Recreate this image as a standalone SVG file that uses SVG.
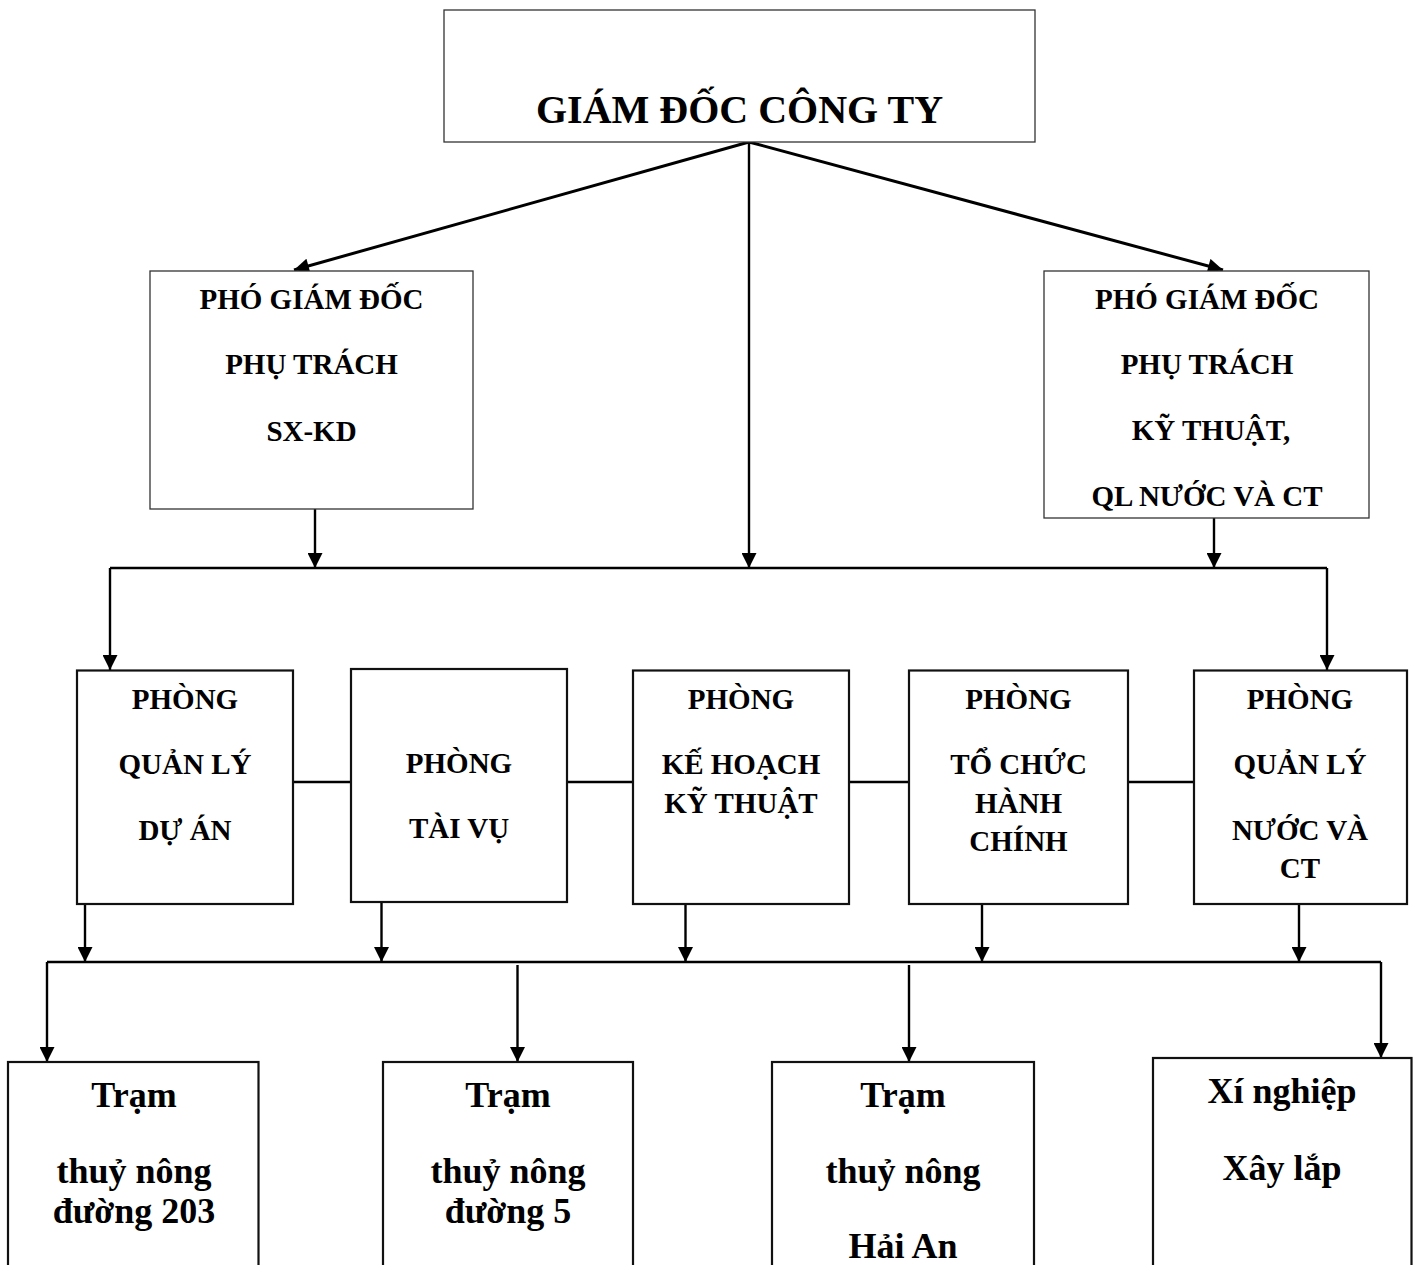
<svg xmlns="http://www.w3.org/2000/svg" width="1422" height="1265" viewBox="0 0 1422 1265">
<style>
  .thin { fill: #fff; stroke: #333; stroke-width: 1.3; }
  .thick { fill: #fff; stroke: #111; stroke-width: 2.2; }
  .t { font-family: "Liberation Serif", "Times New Roman", serif; font-weight: bold; fill: #000; text-anchor: middle; }
  .t40 { font-size: 40px; }
  .t29 { font-size: 29px; }
  .t36 { font-size: 36px; }
  .c { stroke: #000; stroke-width: 2.4; fill: none; }
  .d { stroke-width: 3; }
  .a { marker-end: url(#arr); }
</style>
<defs>
  <marker id="arr" viewBox="0 0 10 10" refX="10" refY="5" markerWidth="16" markerHeight="15" markerUnits="userSpaceOnUse" orient="auto">
    <path d="M0,0 L10,5 L0,10 z" fill="#000"/>
  </marker>
</defs>
<rect width="1422" height="1265" fill="#fff"/>

<g id="connectors">
  <line class="c d a" x1="749" y1="142" x2="294" y2="270"/>
  <line class="c d a" x1="749" y1="142" x2="1223" y2="270"/>
  <line class="c a" x1="749" y1="142" x2="749" y2="568"/>
  <line class="c a" x1="315" y1="509" x2="315" y2="568"/>
  <line class="c a" x1="1214" y1="518" x2="1214" y2="568"/>
  <line class="c" x1="110" y1="568" x2="1327" y2="568"/>
  <line class="c a" x1="110" y1="568" x2="110" y2="670"/>
  <line class="c a" x1="1327" y1="568" x2="1327" y2="670"/>
  <line class="c" x1="293" y1="782" x2="351" y2="782"/>
  <line class="c" x1="567" y1="782" x2="633" y2="782"/>
  <line class="c" x1="849" y1="782" x2="909" y2="782"/>
  <line class="c" x1="1128" y1="782" x2="1194" y2="782"/>
  <line class="c a" x1="85" y1="904" x2="85" y2="962"/>
  <line class="c a" x1="381.5" y1="902" x2="381.5" y2="962"/>
  <line class="c a" x1="685.5" y1="904" x2="685.5" y2="962"/>
  <line class="c a" x1="982" y1="904" x2="982" y2="962"/>
  <line class="c a" x1="1299" y1="904" x2="1299" y2="962"/>
  <line class="c" x1="47" y1="962" x2="1381" y2="962"/>
  <line class="c a" x1="47" y1="962" x2="47" y2="1062"/>
  <line class="c a" x1="517.5" y1="965" x2="517.5" y2="1062"/>
  <line class="c a" x1="909" y1="965" x2="909" y2="1062"/>
  <line class="c a" x1="1381" y1="962" x2="1381" y2="1058"/>
</g>

<g id="giam-doc">
  <rect class="thin" x="444" y="10" width="591" height="132"/>
  <text class="t t40" x="739.5" y="123">GIÁM ĐỐC CÔNG TY</text>
</g>

<g id="pgd-sxkd">
  <rect class="thin" x="150" y="271" width="323" height="238"/>
  <text class="t t29" x="311.5" y="309">PHÓ GIÁM ĐỐC</text>
  <text class="t t29" x="311.5" y="374">PHỤ TRÁCH</text>
  <text class="t t29" x="311.5" y="441">SX-KD</text>
</g>

<g id="pgd-kt">
  <rect class="thin" x="1044" y="271" width="325" height="247"/>
  <text class="t t29" x="1207" y="309">PHÓ GIÁM ĐỐC</text>
  <text class="t t29" x="1207" y="374">PHỤ TRÁCH</text>
  <text class="t t29" x="1211" y="440">KỸ THUẬT,</text>
  <text class="t t29" x="1207" y="506">QL NƯỚC VÀ CT</text>
</g>

<g id="p-qlda">
  <rect class="thick" x="77" y="670.5" width="216" height="233.5"/>
  <text class="t t29" x="185" y="709">PHÒNG</text>
  <text class="t t29" x="185" y="774">QUẢN LÝ</text>
  <text class="t t29" x="185" y="840">DỰ ÁN</text>
</g>

<g id="p-taivu">
  <rect class="thick" x="351" y="669" width="216" height="233"/>
  <text class="t t29" x="459" y="773">PHÒNG</text>
  <text class="t t29" x="459" y="838">TÀI VỤ</text>
</g>

<g id="p-khkt">
  <rect class="thick" x="633" y="670.5" width="216" height="233.5"/>
  <text class="t t29" x="741" y="709">PHÒNG</text>
  <text class="t t29" x="741" y="774">KẾ HOẠCH</text>
  <text class="t t29" x="741" y="813">KỸ THUẬT</text>
</g>

<g id="p-tchc">
  <rect class="thick" x="909" y="670.5" width="219" height="233.5"/>
  <text class="t t29" x="1018.5" y="709">PHÒNG</text>
  <text class="t t29" x="1018.5" y="774">TỔ CHỨC</text>
  <text class="t t29" x="1018.5" y="813">HÀNH</text>
  <text class="t t29" x="1018.5" y="851">CHÍNH</text>
</g>

<g id="p-qlnct">
  <rect class="thick" x="1194" y="670.5" width="213" height="233.5"/>
  <text class="t t29" x="1300" y="709">PHÒNG</text>
  <text class="t t29" x="1300" y="774">QUẢN LÝ</text>
  <text class="t t29" x="1300" y="840">NƯỚC VÀ</text>
  <text class="t t29" x="1300" y="878">CT</text>
</g>

<g id="tram-203">
  <rect class="thick" x="8" y="1062" width="250.5" height="220"/>
  <text class="t t36" x="134" y="1107">Trạm</text>
  <text class="t t36" x="134" y="1183">thuỷ nông</text>
  <text class="t t36" x="134" y="1223">đường 203</text>
</g>

<g id="tram-5">
  <rect class="thick" x="383" y="1062" width="250" height="220"/>
  <text class="t t36" x="508" y="1107">Trạm</text>
  <text class="t t36" x="508" y="1183">thuỷ nông</text>
  <text class="t t36" x="508" y="1223">đường 5</text>
</g>

<g id="tram-haian">
  <rect class="thick" x="772" y="1062" width="262" height="220"/>
  <text class="t t36" x="903" y="1107">Trạm</text>
  <text class="t t36" x="903" y="1183">thuỷ nông</text>
  <text class="t t36" x="903" y="1258">Hải An</text>
</g>

<g id="xi-nghiep">
  <rect class="thick" x="1153" y="1058" width="258.5" height="224"/>
  <text class="t t36" x="1282" y="1103">Xí nghiệp</text>
  <text class="t t36" x="1282" y="1180">Xây lắp</text>
</g>
</svg>
